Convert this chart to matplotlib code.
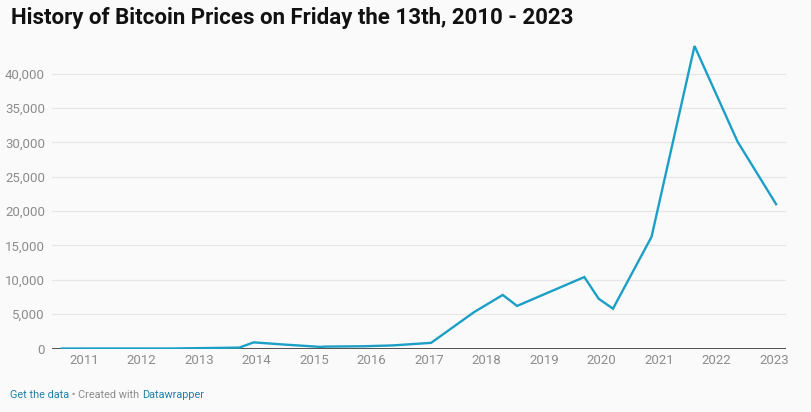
import numpy as np
import pandas as pd
import matplotlib
matplotlib.use("Agg")
import matplotlib.pyplot as plt
import matplotlib.dates as mdates
from matplotlib.ticker import FuncFormatter

plt.rcParams.update({
    "font.family": ["Roboto", "DejaVu Sans"],
})

# Friday the 13th closing prices (USD)
dates = ["2010-08-13", "2011-05-13", "2012-01-13", "2012-04-13", "2012-07-13",
         "2013-09-13", "2013-12-13", "2014-06-13", "2015-02-13", "2015-03-13",
         "2015-11-13", "2016-05-13", "2017-01-13", "2017-10-13", "2018-04-13",
         "2018-07-13", "2019-09-13", "2019-12-13", "2020-03-13", "2020-11-13",
         "2021-08-13", "2022-05-13", "2023-01-13"]
prices = [0.07, 8.0, 6.4, 4.9, 7.6,
          137, 900, 600, 235, 285,
          335, 455, 830, 5300, 7800,
          6200, 10400, 7250, 5800, 16250,
          44000, 30100, 21000]
years = list(range(2011, 2024))
y_ticks = [0, 5000, 10000, 15000, 20000, 25000, 30000, 35000, 40000]

bg = "#fafafa"
line_col = "#1c9fc6"
grid_col = "#e6e6e6"
tick_col = "#8c8c8c"

x = pd.to_datetime(dates)

fig = plt.figure(figsize=(8.12, 4.12), dpi=100, facecolor=bg)
ax = fig.add_axes([0.064, 0.154, 0.904, 0.751], facecolor=bg)

for v in y_ticks[1:]:
    ax.axhline(v, color=grid_col, lw=0.9, zorder=1)
ax.axhline(0, color="#222222", lw=1.1, zorder=2)

ax.plot(x, prices, color=line_col, lw=1.7, zorder=3, solid_joinstyle="miter")

xmin = pd.Timestamp("2010-06-11")
xmax = pd.Timestamp("2023-03-17")
ax.set_xlim(xmin, xmax)
ax.set_ylim(0, 45000)

ax.set_xticks([pd.Timestamp(f"{y}-01-01") for y in years])
ax.set_xticklabels([str(y) for y in years])
ax.set_yticks(y_ticks)
ax.yaxis.set_major_formatter(FuncFormatter(lambda v, p: f"{int(v):,}"))

ax.tick_params(axis="both", length=0, labelsize=9.5, labelcolor=tick_col)
ax.tick_params(axis="x", pad=4)
ax.tick_params(axis="y", pad=5)
for s in ax.spines.values():
    s.set_visible(False)

fig.text(0.014, 0.942, "History of Bitcoin Prices on Friday the 13th, 2010 - 2023",
         fontsize=16, fontweight="bold", color="#111111", ha="left", va="baseline")

t1 = fig.text(0.012, 0.035, "Get the data", fontsize=7.8, color="#1f81a8",
              ha="left", va="baseline")
fig.canvas.draw()
r = fig.canvas.get_renderer()
bb = t1.get_window_extent(r)
t2 = fig.text(bb.x1 / fig.bbox.width, 0.035, " \u2022 Created with ", fontsize=7.8,
              color="#8c8c8c", ha="left", va="baseline")
bb2 = t2.get_window_extent(r)
fig.text(bb2.x1 / fig.bbox.width, 0.035, "Datawrapper", fontsize=7.8,
         color="#1f81a8", ha="left", va="baseline")

fig.savefig("out.png", dpi=100, facecolor=bg)
